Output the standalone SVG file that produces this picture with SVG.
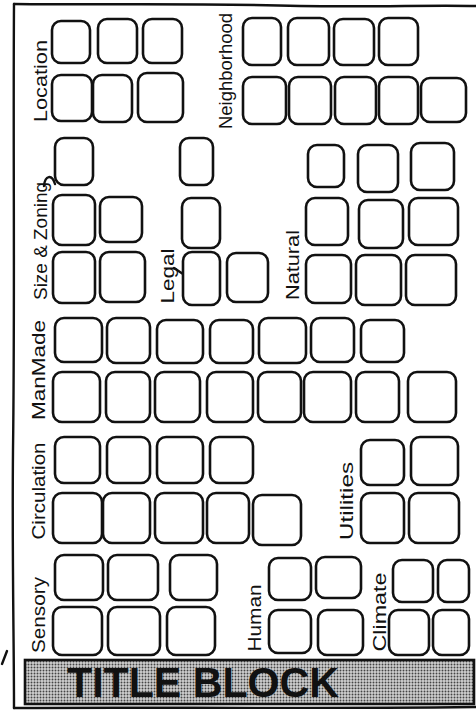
<svg xmlns="http://www.w3.org/2000/svg" width="476" height="714" viewBox="0 0 476 714">
<style>
.b{fill:#fff;stroke:#111;stroke-width:2.6}
.l{font-family:"Liberation Sans",Arial,sans-serif;font-size:18px;fill:#111;text-anchor:middle}
.ln{fill:none;stroke:#111;stroke-width:2.4;stroke-linecap:round}
</style>
<defs>
<pattern id="dots" width="3" height="3" patternUnits="userSpaceOnUse">
<rect width="3" height="3" fill="#d0d0d0"/>
<circle cx="1.5" cy="1.5" r="0.95" fill="#444"/>
</pattern>
</defs>
<rect width="476" height="714" fill="#fff"/>
<g id="frame">
<path class="ln" d="M14,4 C120,5 200,3 300,6 C380,7 430,5 476,6"/>
<path class="ln" d="M14,4 C13,150 15,300 13,450 C12,560 14,640 14,708"/>
<path class="ln" d="M14,708 C150,707 300,709 476,707"/>
<path class="ln" d="M2,664 L7,651"/>
</g>
<g id="location">
<text class="l" transform="translate(47,81) rotate(-90)" textLength="82" lengthAdjust="spacingAndGlyphs">Location</text>
<rect class="b" x="52" y="21" width="38" height="42" rx="9"/>
<rect class="b" x="98" y="19" width="39" height="44" rx="9"/>
<rect class="b" x="143" y="19" width="39" height="44" rx="9"/>
<rect class="b" x="52" y="75" width="40" height="46" rx="9"/>
<rect class="b" x="93" y="75" width="39" height="47" rx="9"/>
<rect class="b" x="138" y="73" width="45" height="49" rx="9"/>
</g>
<g id="neighborhood">
<text class="l" transform="translate(232,71) rotate(-90)" textLength="116" lengthAdjust="spacingAndGlyphs">Neighborhood</text>
<rect class="b" x="243" y="18" width="38" height="47" rx="9"/>
<rect class="b" x="288" y="18" width="41" height="47" rx="9"/>
<rect class="b" x="334" y="19" width="40" height="46" rx="9"/>
<rect class="b" x="379" y="18" width="39" height="47" rx="9"/>
<rect class="b" x="243" y="77" width="43" height="47" rx="9"/>
<rect class="b" x="289" y="77" width="42" height="47" rx="9"/>
<rect class="b" x="335" y="77" width="41" height="47" rx="9"/>
<rect class="b" x="379" y="77" width="39" height="47" rx="9"/>
<rect class="b" x="421" y="78" width="45" height="44" rx="9"/>
</g>
<g id="size-zoning">
<text class="l" transform="translate(47,241) rotate(-90)" textLength="118" lengthAdjust="spacingAndGlyphs">Size &amp; Zoning</text>
<path class="ln" d="M44,186 C45,175 52,174 55,184"/>
<rect class="b" x="55" y="138" width="38" height="47" rx="9"/>
<rect class="b" x="53" y="195" width="42" height="50" rx="9"/>
<rect class="b" x="100" y="197" width="42" height="45" rx="9"/>
<rect class="b" x="53" y="252" width="42" height="51" rx="9"/>
<rect class="b" x="100" y="252" width="45" height="50" rx="9"/>
</g>
<g id="legal">
<text class="l" transform="translate(174,276) rotate(-90)" textLength="55" lengthAdjust="spacingAndGlyphs">Legal</text>
<path class="ln" d="M174,268 L183,274"/>
<rect class="b" x="180" y="138" width="33" height="47" rx="9"/>
<rect class="b" x="182" y="198" width="38" height="50" rx="9"/>
<rect class="b" x="183" y="252" width="37" height="53" rx="9"/>
<rect class="b" x="227" y="253" width="41" height="49" rx="9"/>
</g>
<g id="natural">
<text class="l" transform="translate(299,265) rotate(-90)" textLength="70" lengthAdjust="spacingAndGlyphs">Natural</text>
<rect class="b" x="308" y="145" width="36" height="42" rx="9"/>
<rect class="b" x="358" y="145" width="40" height="47" rx="9"/>
<rect class="b" x="411" y="143" width="43" height="47" rx="9"/>
<rect class="b" x="306" y="198" width="42" height="47" rx="9"/>
<rect class="b" x="359" y="200" width="44" height="48" rx="9"/>
<rect class="b" x="409" y="198" width="49" height="47" rx="9"/>
<rect class="b" x="306" y="255" width="45" height="48" rx="9"/>
<rect class="b" x="356" y="255" width="45" height="50" rx="9"/>
<rect class="b" x="406" y="255" width="50" height="50" rx="9"/>
</g>
<g id="manmade">
<text class="l" transform="translate(45,370) rotate(-90)" textLength="100" lengthAdjust="spacingAndGlyphs">ManMade</text>
<rect class="b" x="55" y="318" width="47" height="44" rx="9"/>
<rect class="b" x="107" y="318" width="43" height="45" rx="9"/>
<rect class="b" x="157" y="320" width="46" height="43" rx="9"/>
<rect class="b" x="210" y="320" width="43" height="43" rx="9"/>
<rect class="b" x="259" y="318" width="47" height="45" rx="9"/>
<rect class="b" x="311" y="318" width="43" height="44" rx="9"/>
<rect class="b" x="361" y="320" width="43" height="42" rx="9"/>
<rect class="b" x="53" y="372" width="47" height="50" rx="9"/>
<rect class="b" x="106" y="372" width="44" height="50" rx="9"/>
<rect class="b" x="155" y="372" width="45" height="50" rx="9"/>
<rect class="b" x="207" y="372" width="46" height="50" rx="9"/>
<rect class="b" x="258" y="372" width="43" height="50" rx="9"/>
<rect class="b" x="304" y="372" width="47" height="50" rx="9"/>
<rect class="b" x="356" y="372" width="43" height="50" rx="9"/>
<rect class="b" x="408" y="372" width="48" height="50" rx="9"/>
</g>
<g id="circulation">
<text class="l" transform="translate(45,491) rotate(-90)" textLength="97" lengthAdjust="spacingAndGlyphs">Circulation</text>
<rect class="b" x="55" y="437" width="45" height="46" rx="9"/>
<rect class="b" x="107" y="437" width="43" height="46" rx="9"/>
<rect class="b" x="157" y="437" width="46" height="46" rx="9"/>
<rect class="b" x="210" y="437" width="43" height="46" rx="9"/>
<rect class="b" x="53" y="493" width="49" height="50" rx="9"/>
<rect class="b" x="103" y="493" width="47" height="50" rx="9"/>
<rect class="b" x="155" y="493" width="48" height="50" rx="9"/>
<rect class="b" x="207" y="493" width="42" height="50" rx="9"/>
<rect class="b" x="253" y="495" width="48" height="50" rx="9"/>
</g>
<g id="utilities">
<text class="l" transform="translate(353,501) rotate(-90)" textLength="78" lengthAdjust="spacingAndGlyphs">Utilities</text>
<rect class="b" x="361" y="440" width="43" height="45" rx="9"/>
<rect class="b" x="411" y="437" width="47" height="48" rx="9"/>
<rect class="b" x="361" y="493" width="43" height="50" rx="9"/>
<rect class="b" x="409" y="493" width="50" height="50" rx="9"/>
</g>
<g id="sensory">
<text class="l" transform="translate(45,615) rotate(-90)" textLength="76" lengthAdjust="spacingAndGlyphs">Sensory</text>
<rect class="b" x="55" y="555" width="48" height="45" rx="9"/>
<rect class="b" x="108" y="555" width="50" height="45" rx="9"/>
<rect class="b" x="170" y="555" width="47" height="45" rx="9"/>
<rect class="b" x="53" y="607" width="49" height="48" rx="9"/>
<rect class="b" x="108" y="607" width="52" height="48" rx="9"/>
<rect class="b" x="167" y="607" width="48" height="48" rx="9"/>
</g>
<g id="human">
<text class="l" transform="translate(261,618) rotate(-90)" textLength="67" lengthAdjust="spacingAndGlyphs">Human</text>
<rect class="b" x="269" y="558" width="42" height="42" rx="9"/>
<rect class="b" x="316" y="557" width="45" height="41" rx="9"/>
<rect class="b" x="269" y="610" width="42" height="43" rx="9"/>
<rect class="b" x="318" y="610" width="45" height="45" rx="9"/>
</g>
<g id="climate">
<text class="l" transform="translate(386,612) rotate(-90)" textLength="79" lengthAdjust="spacingAndGlyphs">Climate</text>
<rect class="b" x="393" y="560" width="40" height="42" rx="9"/>
<rect class="b" x="438" y="560" width="31" height="42" rx="9"/>
<rect class="b" x="389" y="610" width="40" height="45" rx="9"/>
<rect class="b" x="433" y="610" width="36" height="45" rx="9"/>
</g>
<g id="title-block">
<rect x="25" y="660" width="449" height="44" fill="url(#dots)" stroke="#111" stroke-width="2.6"/>
<text x="203" y="697" font-family="Liberation Sans,Arial,sans-serif" font-size="42" font-weight="bold" fill="#111" text-anchor="middle" textLength="272" lengthAdjust="spacingAndGlyphs">TITLE BLOCK</text>
</g>
</svg>
